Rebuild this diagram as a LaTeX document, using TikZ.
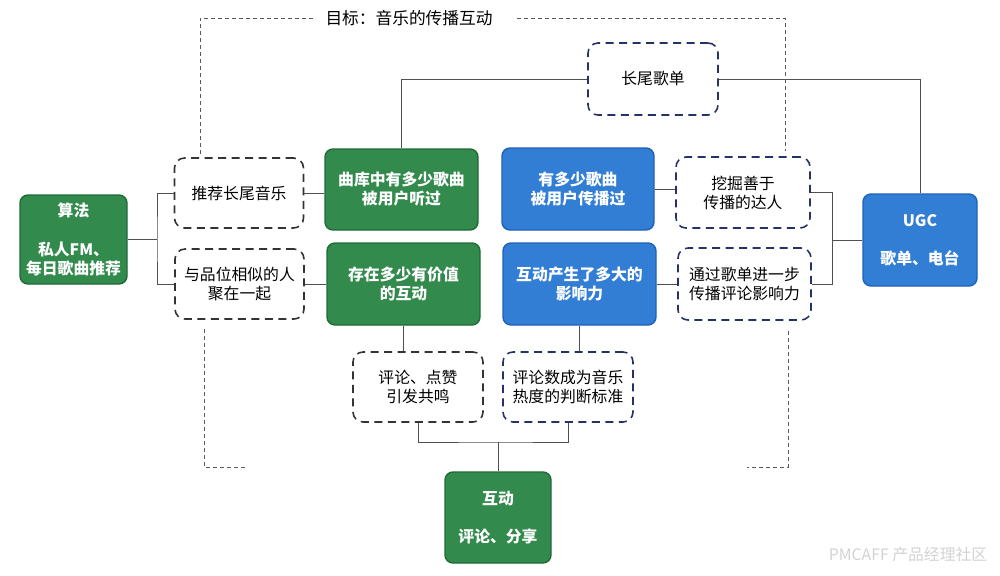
\documentclass[tikz,border=0pt]{standalone}
\usepackage{fontspec}
\setmainfont{Noto Sans CJK SC}
\usetikzlibrary{positioning}
\definecolor{boxgreen}{RGB}{50,138,76}
\definecolor{boxgreenline}{RGB}{32,106,56}
\definecolor{boxblue}{RGB}{50,126,212}
\definecolor{boxblueline}{RGB}{32,96,186}
\definecolor{dashnavy}{RGB}{38,50,102}
\definecolor{linkgray}{RGB}{80,80,80}

\begin{document}
\begin{tikzpicture}[
        x=0.2mm, y=-0.2mm,
        font=\fontsize{9pt}{10.8pt}\selectfont,
        boxsize/.style 2 args={minimum width=#1*0.2mm, minimum height=#2*0.2mm},
        greenbox/.style={draw=boxgreenline, line width=0.8pt, fill=boxgreen, rounded corners=1.6mm, text=white, font=\fontsize{9pt}{10.8pt}\selectfont\bfseries, align=center, inner sep=0pt},
        bluebox/.style={greenbox, draw=boxblueline, fill=boxblue},
        dashbox/.style={draw=black!80, dash pattern=on 1.6mm off 1.1mm, line width=0.9pt, rounded corners=2mm, align=center, inner sep=0pt},
        navybox/.style={dashbox, draw=dashnavy},
        link/.style={draw=linkgray, line width=0.5pt},
        goalline/.style={draw=gray!70!black, line width=0.5pt, dash pattern=on 0.8mm off 0.6mm}
    ]
    \useasboundingbox (0,0) rectangle (1000,575);

    % goal
    \node[inner sep=0pt, font=\fontsize{9.5pt}{11pt}\selectfont] (goal) at (409,18) {目标：音乐的传播互动};

    % left side
    \node[greenbox, boxsize={107}{89}] (algo) at (73.5,239.5) {算法\\[11pt]私人FM、\\每日歌曲推荐};
    \node[dashbox, boxsize={129}{70}] (recommend) at (239,193) {推荐长尾音乐};
    \node[dashbox, boxsize={129}{70}] (taste) at (239.5,284) {与品位相似的人\\聚在一起};
    \node[greenbox, boxsize={153}{81}] (library) at (401.5,189.5) {曲库中有多少歌曲\\被用户听过};
    \node[greenbox, boxsize={153}{82}] (valuable) at (403.5,284) {存在多少有价值\\的互动};

    % right side
    \node[bluebox, boxsize={152}{82}] (spread) at (578,189) {有多少歌曲\\被用户传播过};
    \node[bluebox, boxsize={153}{82}] (influence) at (579.5,284) {互动产生了多大的\\影响力};
    \node[navybox, boxsize={134}{71}] (talent) at (743,192.5) {挖掘善于\\传播的达人};
    \node[navybox, boxsize={133}{72}] (playlistspread) at (744.5,284) {通过歌单进一步\\传播评论影响力};
    \node[bluebox, boxsize={114}{92}] (ugc) at (920,240) {UGC\\[11pt]歌单、电台};
    \node[navybox, boxsize={130}{72}] (longlist) at (653,79) {长尾歌单};

    % bottom
    \node[dashbox, boxsize={130}{70}] (likes) at (418,387) {评论、点赞\\引发共鸣};
    \node[navybox, boxsize={130}{70}] (heat) at (568,387) {评论数成为音乐\\热度的判断标准};
    \node[greenbox, boxsize={106}{91}] (interact) at (498,517.5) {互动\\[11pt]评论、分享};

    \node[text=gray!35, font=\fontsize{9pt}{10pt}\selectfont] (mark) at (908,555) {PMCAFF 产品经理社区};

    % connectors
    \coordinate (forkL) at (157,239.5);
    \coordinate (forkR) at (832,240);
    \coordinate (forkB) at (498,442);
    \draw[link] (algo.east) -- (forkL);
    \draw[link] (recommend.west) -| (forkL) |- (taste.west);
    \draw[link] (recommend.east) -- (recommend.east -| library.west);
    \draw[link] (taste) -- (valuable);
    \draw[link] (library.north) |- (longlist.west);
    \draw[link] (longlist.east) -| (ugc.north);
    \draw[link] (spread.east) -- (spread.east -| talent.west);
    \draw[link] (influence) -- (playlistspread);
    \draw[link] (talent.east) -| (forkR) |- (playlistspread.east);
    \draw[link] (forkR) -- (ugc.west);
    \draw[link] (valuable.south) -- (valuable.south |- likes.north);
    \draw[link] (influence.south) -- (influence.south |- heat.north);
    \draw[link] (likes.south) |- (forkB) -| (heat.south);
    \draw[link] (forkB) -- (interact.north);

    % goal frame
    \coordinate (footL) at (248,467);
    \coordinate (footR) at (747,467);
    \draw[goalline] ([xshift=-2.4mm]goal.west) -| ([shift={(-39,-3)}]recommend.north);
    \draw[goalline] ([xshift=4.8mm]goal.east) -| ([shift={(42,-5)}]talent.north);
    \draw[goalline] ([shift={(-35,9)}]taste.south) |- (footL);
    \draw[goalline] ([shift={(43.5,10)}]playlistspread.south) |- (footR);
\end{tikzpicture}
\end{document}
